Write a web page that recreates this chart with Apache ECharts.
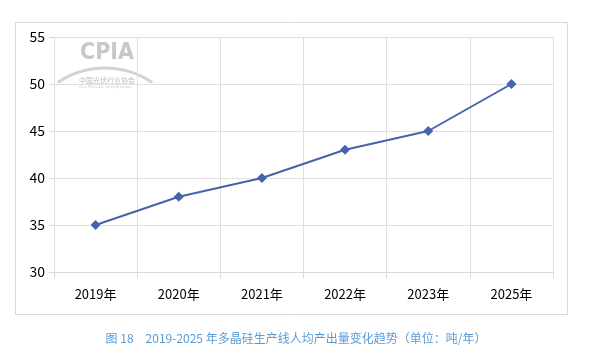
<!DOCTYPE html>
<html><head><meta charset="utf-8">
<script src="https://cdn.jsdelivr.net/npm/echarts@6/dist/echarts.min.js"></script>
<style>html,body{margin:0;padding:0;background:#fff}#c{width:592px;height:359px}</style>
</head><body><div id="c"></div>
<script>
const categories = ['2019年','2020年','2021年','2022年','2023年','2025年'];
const values = [35, 38, 40, 43, 45, 50];
const yTicks = [30, 35, 40, 45, 50, 55];
const caption = '图 18　2019-2025 年多晶硅生产线人均产出量变化趋势（单位：吨/年）';

const chart = echarts.init(document.getElementById('c'));
const font = '"Noto Sans CJK SC", "Noto Sans", sans-serif';
chart.setOption({
  animation: false,
  graphic: [
    {type:'rect', shape:{x:15.5,y:22.5,width:552,height:292}, style:{fill:'none',stroke:'#d9d9d9',lineWidth:1}, z:-10},
    {type:'arc', shape:{cx:105,cy:152,r:84,startAngle:Math.PI*1.31,endAngle:Math.PI*1.69}, style:{stroke:'#d3d3d3',lineWidth:3,fill:'none'}, z:-5},
    {type:'text', left:80, top:42, style:{text:'CPIA', font:'bold 23px "DejaVu Sans Condensed", sans-serif', fill:'#c8c8c8'}, z:-5},
    {type:'text', left:79, top:77, style:{text:'中国光伏行业协会', font:'7px "Noto Sans CJK SC"', fill:'#bdbdbd'}, z:-5},
    {type:'text', left:79, top:86, style:{text:'China Photovoltaic Industry Association', font:'3px sans-serif', fill:'#cfcfcf'}, z:-5},
    {type:'text', left:'center', top:332, style:{text:caption, font:'12px ' + font, fill:'#5b9bd5'}}
  ],
  grid: {left:54, right:39, top:37, bottom:87},
  xAxis: {
    type:'category', data:categories, boundaryGap:true,
    axisLine:{show:true, lineStyle:{color:'#d9d9d9', width:1}},
    axisTick:{show:true, length:6, lineStyle:{color:'#d9d9d9'}},
    splitLine:{show:true, lineStyle:{color:'#e0e0e0'}},
    axisLabel:{color:'#000', fontSize:13, fontFamily:font, margin:16}
  },
  yAxis: {
    type:'value', min:30, max:55, interval:5,
    axisLine:{show:false},
    axisTick:{show:true, length:5, lineStyle:{color:'#d9d9d9'}},
    splitLine:{show:true, lineStyle:{color:'#e0e0e0'}},
    axisLabel:{color:'#000', fontSize:14, fontFamily:font, margin:9,
      formatter: v => yTicks.includes(v) ? String(v) : ''}
  },
  series: [{
    type:'line', data:values, symbol:'diamond', symbolSize:10,
    lineStyle:{color:'#4464ac', width:2}, itemStyle:{color:'#4464ac'}
  }]
});
</script></body></html>
